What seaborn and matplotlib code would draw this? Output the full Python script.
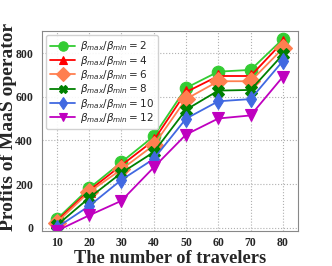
import matplotlib
matplotlib.use("Agg")
import matplotlib.pyplot as plt
import seaborn as sns
import pandas as pd

travelers = [10, 20, 30, 40, 50, 60, 70, 80]
ratios = [2, 4, 6, 8, 10, 12]
profit_2 = [38, 180, 300, 419, 641, 716, 724, 866]
profit_4 = [30, 170, 286, 400, 622, 696, 696, 853]
profit_6 = [23, 163, 267, 378, 590, 672, 672, 823]
profit_8 = [10, 136, 251, 346, 541, 629, 632, 795]
profit_10 = [0, 99, 219, 315, 500, 580, 590, 765]
profit_12 = [-15, 56, 123, 276, 427, 501, 515, 693]
series = [profit_2, profit_4, profit_6, profit_8, profit_10, profit_12]

colors = ["#33cc33", "#ff0000", "#ff7f50", "#008000", "#4169e1", "#bf00bf"]
markers = ["o", "^", "D", "X", "d", "v"]
msizes = [9, 8, 9, 8, 8, 8]

sns.set_style("white")
fig, ax = plt.subplots(figsize=(3.32, 2.66), dpi=100)
fig.subplots_adjust(left=0.127, right=0.898, top=0.883, bottom=0.132)

for r, vals, c, m, ms in zip(ratios, series, colors, markers, msizes):
    df = pd.DataFrame({"x": travelers, "y": vals})
    sns.lineplot(data=df, x="x", y="y", ax=ax, color=c, marker=m,
                 markersize=ms, linewidth=1.3, markeredgecolor=c,
                 markeredgewidth=0.8,
                 label=r"$\beta_{max}/\beta_{min}=$" + f"{r}")

ax.set_xlim(5.5, 84.7)
ax.set_ylim(-15, 902)
ax.set_xticks(travelers)
ax.set_yticks([0, 200, 400, 600, 800])
ax.grid(True, linestyle=":", color="#b0b0b0", linewidth=0.8)
for s in ax.spines.values():
    s.set_color("#888888")
    s.set_linewidth(0.8)
ax.tick_params(axis="y", length=2, pad=4.5)
ax.tick_params(axis="x", length=2, pad=2.5)
for lab in ax.get_xticklabels() + ax.get_yticklabels():
    lab.set_fontfamily("Liberation Serif")
    lab.set_fontweight("bold")
    lab.set_fontsize(8.5)
ax.set_xlabel("The number of travelers", fontfamily="Liberation Serif",
              fontweight="bold", fontsize=13.2)
ax.xaxis.set_label_coords(0.5, -0.163)
ax.xaxis.label.set_verticalalignment("baseline")
ax.set_ylabel("Profits of MaaS operator", fontfamily="Liberation Serif",
              fontweight="bold", fontsize=14, labelpad=1)
ax.yaxis.set_label_coords(-0.1, 0.52)
leg = ax.legend(loc="upper left", fontsize=7.5, handlelength=2.4,
                borderpad=0.4, labelspacing=0.03, handletextpad=0.4,
                markerscale=0.75, borderaxespad=0.4,
                frameon=True, fancybox=True, framealpha=0.9)
fig.savefig("out.png", dpi=100)
